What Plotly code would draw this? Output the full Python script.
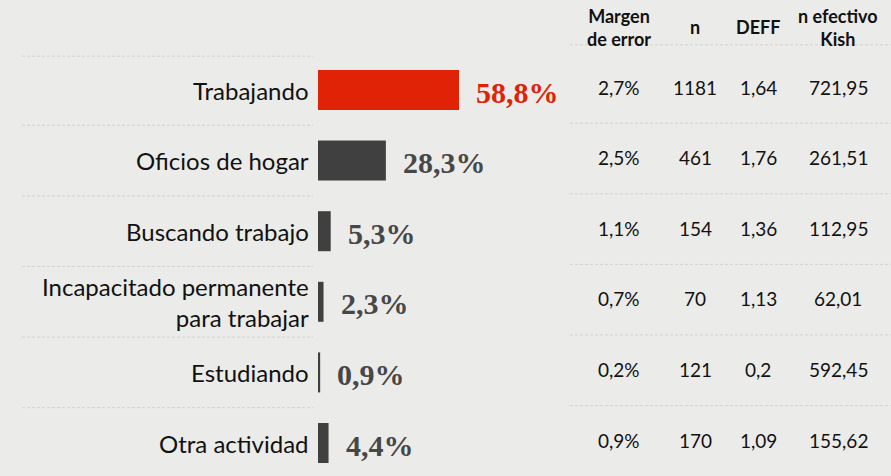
import plotly.graph_objects as go

# Situación laboral: porcentaje y estadísticas de precisión por categoría
categorias = [
    "Trabajando",
    "Oficios de hogar",
    "Buscando trabajo",
    "Incapacitado permanente<br>para trabajar",
    "Estudiando",
    "Otra actividad",
]
porcentajes = [58.8, 28.3, 5.3, 2.3, 0.9, 4.4]
margen_error = ["2,7%", "2,5%", "1,1%", "0,7%", "0,2%", "0,9%"]
n_casos = ["1181", "461", "154", "70", "121", "170"]
deff = ["1,64", "1,76", "1,36", "1,13", "0,2", "1,09"]
n_efectivo = ["721,95", "261,51", "112,95", "62,01", "592,45", "155,62"]
encabezados = ["Margen<br>de error", "n", "DEFF", "n efectivo<br>Kish"]

W, H = 891, 476
BAR_X0 = 318          # pixel where bars start
PX_PER_UNIT = 2.398   # horizontal scale
ROW0, ROW_STEP = 90, 70.6

ROJO = "#E02306"
GRIS = "#404040"
FONDO = "#EBEBE9"
SANS = "Lato, 'Open Sans', sans-serif"
SERIF = "'Liberation Serif', 'DejaVu Serif', serif"

filas = list(range(len(categorias)))
colores = [ROJO] + [GRIS] * (len(categorias) - 1)


def fmt(v):
    return f"{v:.1f}".replace(".", ",") + "%"


fig = go.Figure(
    go.Bar(
        x=porcentajes,
        y=filas,
        orientation="h",
        width=40 / ROW_STEP,
        marker=dict(color=colores, line=dict(width=0)),
        hoverinfo="skip",
    )
)

annotations = []
# category labels to the left of the bars
for i, cat in enumerate(categorias):
    annotations.append(dict(
        x=0, y=i, xref="x", yref="y", text=cat, showarrow=False,
        xanchor="right", yanchor="middle", align="right", xshift=-7,
        font=dict(family=SANS, size=24, color="#111111"),
    ))
# value labels to the right of the bars
for i, (v, c) in enumerate(zip(porcentajes, colores)):
    annotations.append(dict(
        x=v, y=i, xref="x", yref="y", text=fmt(v), showarrow=False,
        xanchor="left", yanchor="middle", xshift=15, yshift=-2,
        font=dict(family=SERIF, size=30, weight="bold",
                  color=ROJO if i == 0 else "#474747"),
    ))

# statistics table
col_x = [619, 695, 758, 838]
columnas = [margen_error, n_casos, deff, n_efectivo]
for cx, head, col in zip(col_x, encabezados, columnas):
    annotations.append(dict(
        x=cx / W, y=1 - 27 / H, xref="paper", yref="paper", text=head,
        showarrow=False, xanchor="center", yanchor="middle",
        font=dict(family=SANS, size=18, color="#111111", weight="bold"),
    ))
    for i, val in enumerate(col):
        annotations.append(dict(
            x=cx / W, y=i, xref="paper", yref="y", text=val,
            showarrow=False, xanchor="center", yanchor="middle", yshift=3,
            font=dict(family=SANS, size=19, color="#111111"),
        ))

# faint dashed row separators
shapes = []
linea = dict(color="#D2D2D0", width=1, dash="3px,2px")
sep_left = [-0.48] + [i + 0.5 for i in range(len(categorias) - 1)]
sep_right = [-0.64] + [i + 0.47 for i in range(len(categorias) - 1)]
for y in sep_left:
    shapes.append(dict(type="line", xref="paper", yref="y",
                       x0=22 / W, x1=313 / W, y0=y, y1=y, line=linea, layer="below"))
for y in sep_right:
    shapes.append(dict(type="line", xref="paper", yref="y",
                       x0=570 / W, x1=1, y0=y, y1=y, line=linea, layer="below"))

x_min = -BAR_X0 / PX_PER_UNIT
x_max = (W - BAR_X0) / PX_PER_UNIT
y_top = -ROW0 / ROW_STEP
y_bot = (H - ROW0) / ROW_STEP

fig.update_layout(
    width=W, height=H,
    margin=dict(l=0, r=0, t=0, b=0),
    paper_bgcolor=FONDO, plot_bgcolor=FONDO,
    showlegend=False,
    xaxis=dict(range=[x_min, x_max], visible=False, fixedrange=True),
    yaxis=dict(range=[y_bot, y_top], visible=False, fixedrange=True),
    annotations=annotations,
    shapes=shapes,
)

fig.write_html("out.html")
